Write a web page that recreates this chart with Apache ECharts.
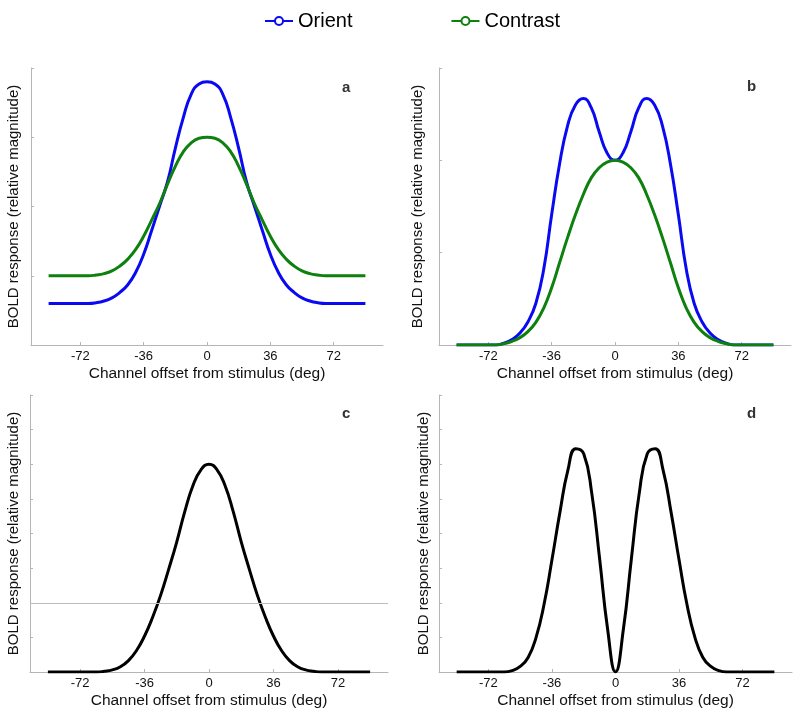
<!DOCTYPE html>
<html><head><meta charset="utf-8">
<script src="https://cdn.jsdelivr.net/npm/echarts@6/dist/echarts.min.js"></script>
<style>html,body{margin:0;padding:0;background:#fff}#chart{width:800px;height:717px}</style>
</head><body><div id="chart"></div>
<script>
// Channel offsets (deg)
const offsets = [-90,-85.5,-81,-76.5,-72,-67.5,-63,-58.5,-54,-49.5,-45,-40.5,-36,-31.5,-27,-22.5,-18,-13.5,-9,-4.5,0,4.5,9,13.5,18,22.5,27,31.5,36,40.5,45,49.5,54,58.5,63,67.5,72,76.5,81,85.5,90];
const xTicks = [-72,-36,0,36,72];
const seriesNames = ['Orient','Contrast'];
const panelLetters = ['a','b','c','d'];

// Panel a
const aOrient = [0.60,0.60,0.60,0.60,0.60,0.60,0.61,0.635,0.68,0.76,0.87,1.05,1.31,1.65,2.00,2.35,2.84,3.28,3.62,3.77,3.80,3.77,3.62,3.28,2.84,2.35,2.00,1.65,1.31,1.05,0.87,0.76,0.68,0.635,0.61,0.60,0.60,0.60,0.60,0.60,0.60];
const aContrast = [1.00,1.00,1.00,1.00,1.00,1.00,1.01,1.03,1.07,1.14,1.24,1.38,1.57,1.80,2.04,2.32,2.58,2.79,2.92,2.985,3.00,2.985,2.92,2.79,2.58,2.32,2.04,1.80,1.57,1.38,1.24,1.14,1.07,1.03,1.01,1.00,1.00,1.00,1.00,1.00,1.00];
// Panel b
const bOrient = [0,0,0,0,0,0,0.02,0.06,0.13,0.25,0.45,0.82,1.41,1.96,2.37,2.60,2.67,2.57,2.31,2.08,2.00,2.08,2.31,2.57,2.67,2.60,2.37,1.96,1.41,0.82,0.45,0.25,0.13,0.06,0.02,0,0,0,0,0,0];
const bContrast = [0,0,0,0,0,0,0.015,0.04,0.08,0.145,0.245,0.40,0.62,0.89,1.16,1.41,1.63,1.81,1.92,1.98,2.00,1.98,1.92,1.81,1.63,1.41,1.16,0.89,0.62,0.40,0.245,0.145,0.08,0.04,0.015,0,0,0,0,0,0];
// Panel c
const cResp = [0,0,0,0,0,0,0,0.02,0.06,0.15,0.33,0.62,1.04,1.58,2.22,2.97,3.76,4.64,5.38,5.84,6.00,5.84,5.38,4.64,3.76,2.97,2.22,1.58,1.04,0.62,0.33,0.15,0.06,0.02,0,0,0,0,0,0,0];
const cRefLine = 2;
// Panel d
const dResp = [0,0,0,0,0,0,0,0.04,0.16,0.42,1.00,1.95,3.24,4.61,5.82,6.45,6.30,5.18,3.27,1.25,0.00,1.25,3.27,5.18,6.30,6.45,5.82,4.61,3.24,1.95,1.00,0.42,0.16,0.04,0,0,0,0,0,0,0];

const pair = arr => offsets.map((x, i) => [x, arr[i]]);

const BLUE = '#0a0af2', GREEN = '#0d800d', BLACK = '#000';
const AX = '#b5b5b5';
const FONT = 'Liberation Sans, Arial, sans-serif';

const grids = [
  {left: 31, top: 68, width: 352, height: 277},
  {left: 439, top: 68, width: 352, height: 277},
  {left: 30, top: 395, width: 358, height: 277},
  {left: 439, top: 395, width: 353, height: 277}
];
const yMax = [4, 3, 8, 8];
const yNameGap = [9.5, 14, 9, 8];

const xAxes = grids.map((g, i) => ({
  type: 'value', gridIndex: i, min: -100, max: 100,
  name: 'Channel offset from stimulus (deg)', nameLocation: 'middle', nameGap: 21,
  nameTextStyle: {fontSize: 15.5, color: '#111', fontFamily: FONT},
  axisLine: {show: true, onZero: false, lineStyle: {color: AX, width: 1}},
  axisTick: {show: true, inside: true, length: 3, lineStyle: {color: AX}, customValues: xTicks},
  axisLabel: {show: true, fontSize: 13, color: '#111', fontFamily: FONT, margin: 5, customValues: xTicks},
  splitLine: {show: false}
}));
const yAxes = grids.map((g, i) => ({
  type: 'value', gridIndex: i, min: 0, max: yMax[i], interval: 1,
  name: 'BOLD response (relative magnitude)', nameLocation: 'middle', nameGap: yNameGap[i],
  nameTextStyle: {fontSize: 15, color: '#111', fontFamily: FONT},
  axisLine: {show: true, onZero: false, lineStyle: {color: AX, width: 1}},
  axisTick: {show: true, inside: true, length: 3, lineStyle: {color: AX}},
  axisLabel: {show: false},
  splitLine: {show: false}
}));

function line(name, data, idx, color, extra) {
  return Object.assign({
    name: name, type: 'line', xAxisIndex: idx, yAxisIndex: idx,
    data: pair(data), smooth: true, showSymbol: false, symbol: 'emptyCircle', symbolSize: 8,
    lineStyle: {color: color, width: 3}, itemStyle: {color: color},
    animation: false, z: 3
  }, extra || {});
}

const letterPos = [[347, 89], [752, 88], [347, 415], [752, 415]];

const option = {
  backgroundColor: '#fff',
  animation: false,
  legend: {
    data: seriesNames, left: 259, top: 6, itemWidth: 28, itemHeight: 10, itemGap: 98,
    textStyle: {fontSize: 20, color: '#000', fontFamily: FONT},
    lineStyle: {width: 2}, itemStyle: {borderWidth: 1.2}
  },
  grid: grids,
  xAxis: xAxes,
  yAxis: yAxes,
  graphic: panelLetters.map((t, i) => ({
    type: 'text', left: letterPos[i][0] - 5, top: letterPos[i][1] - 9,
    style: {text: t, fontSize: 15, fontWeight: 'bold', fill: '#333', font: 'bold 15px ' + FONT}
  })),
  series: [
    line(seriesNames[0], aOrient, 0, BLUE),
    line(seriesNames[1], aContrast, 0, GREEN),
    line(seriesNames[0], bOrient, 1, BLUE),
    line(seriesNames[1], bContrast, 1, GREEN),
    line('c', cResp, 2, BLACK, {
      markLine: {silent: true, symbol: 'none', label: {show: false},
        lineStyle: {color: '#bdbdbd', width: 1, type: 'solid'},
        data: [{yAxis: cRefLine}]}
    }),
    line('d', dResp, 3, BLACK)
  ]
};
const chart = echarts.init(document.getElementById('chart'), null, {renderer: 'canvas'});
chart.setOption(option);
</script></body></html>
